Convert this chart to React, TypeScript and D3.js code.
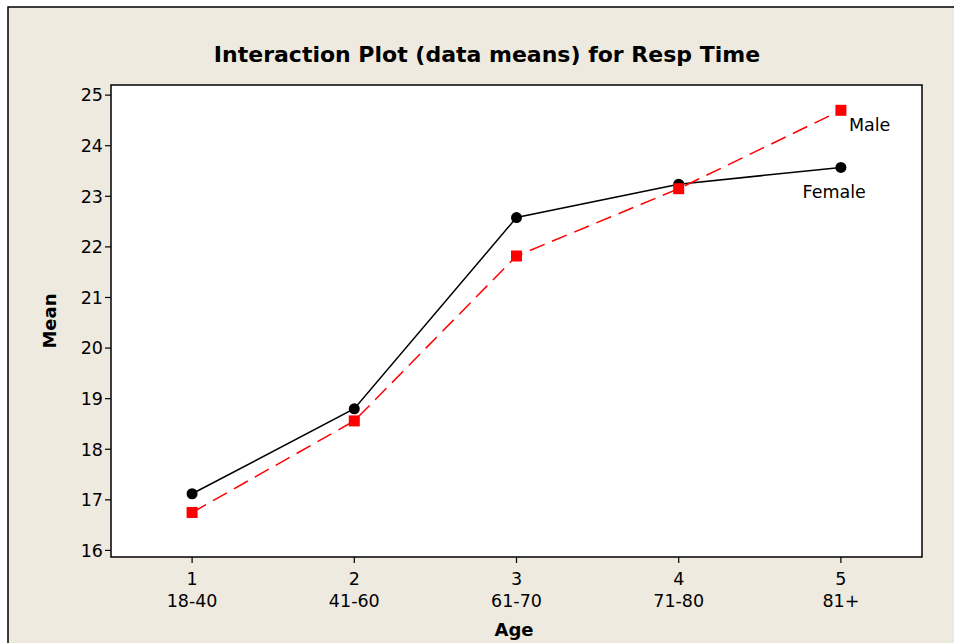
import React from "react";
import * as d3 from "d3";

const ageCodes = [1, 2, 3, 4, 5];
const ageLabels = ["18-40", "41-60", "61-70", "71-80", "81+"];
const femaleMeans = [17.12, 18.8, 22.58, 23.24, 23.57];
const maleMeans = [16.75, 18.56, 21.82, 23.15, 24.7];
const yTicks = [16, 17, 18, 19, 20, 21, 22, 23, 24, 25];

const W = 954, H = 643;
const plot = { left: 111, top: 85, right: 922, bottom: 557 };
const font = "'DejaVu Sans', 'Noto Sans', sans-serif";
const fs = 17.5;

export default function App() {
  const x = d3.scaleLinear().domain([0.5, 5.5]).range([plot.left, plot.right]);
  const y = d3.scaleLinear().domain([15.87, 25.2]).range([plot.bottom, plot.top]);
  const line = d3.line<number>().x((_, i) => x(ageCodes[i])).y((d) => y(d));
  return (
    <svg width={W} height={H} style={{ position: "absolute", left: 0, top: 0 }}>
      <rect x={0} y={0} width={W} height={H} fill="#ffffff" />
      <rect x={8} y={7} width={W} height={H} fill="#eeeae0" stroke="#000" strokeWidth={1.5} />
      <text x={487} y={62} textAnchor="middle" fontFamily={font} fontWeight="bold" fontSize={22}>
        Interaction Plot (data means) for Resp Time
      </text>
      <rect x={plot.left} y={plot.top} width={plot.right - plot.left} height={plot.bottom - plot.top} fill="#fff" stroke="#000" strokeWidth={1.5} />
      {yTicks.map((t) => (
        <g key={t}>
          <line x1={plot.left - 6} x2={plot.left} y1={y(t)} y2={y(t)} stroke="#000" strokeWidth={1.2} />
          <text x={plot.left - 8} y={y(t)} dy="0.36em" textAnchor="end" fontFamily={font} fontSize={fs}>{t}</text>
        </g>
      ))}
      {ageCodes.map((c, i) => (
        <g key={c}>
          <line x1={x(c)} x2={x(c)} y1={plot.bottom} y2={plot.bottom + 6} stroke="#000" strokeWidth={1.2} />
          <text x={x(c)} y={plot.bottom + 28} textAnchor="middle" fontFamily={font} fontSize={fs}>{c}</text>
          <text x={x(c)} y={plot.bottom + 50} textAnchor="middle" fontFamily={font} fontSize={fs}>{ageLabels[i]}</text>
        </g>
      ))}
      <text x={514} y={636} textAnchor="middle" fontFamily={font} fontWeight="bold" fontSize={18}>Age</text>
      <text transform={`translate(56,${(plot.top + plot.bottom) / 2}) rotate(-90)`} textAnchor="middle" fontFamily={font} fontWeight="bold" fontSize={18}>Mean</text>
      <path d={line(femaleMeans) || ""} fill="none" stroke="#000" strokeWidth={1.5} />
      <path d={line(maleMeans) || ""} fill="none" stroke="#ff0000" strokeWidth={1.5} strokeDasharray="16,8" />
      {femaleMeans.map((v, i) => (
        <circle key={i} cx={x(ageCodes[i])} cy={y(v)} r={5.5} fill="#000" />
      ))}
      {maleMeans.map((v, i) => (
        <rect key={i} x={x(ageCodes[i]) - 5.5} y={y(v) - 5.5} width={11} height={11} fill="#ff0000" />
      ))}
      <text x={x(5) + 8} y={y(maleMeans[4]) + 21} fontFamily={font} fontSize={fs}>Male</text>
      <text x={x(5) + 25} y={y(femaleMeans[4]) + 31} textAnchor="end" fontFamily={font} fontSize={fs}>Female</text>
    </svg>
  );
}
